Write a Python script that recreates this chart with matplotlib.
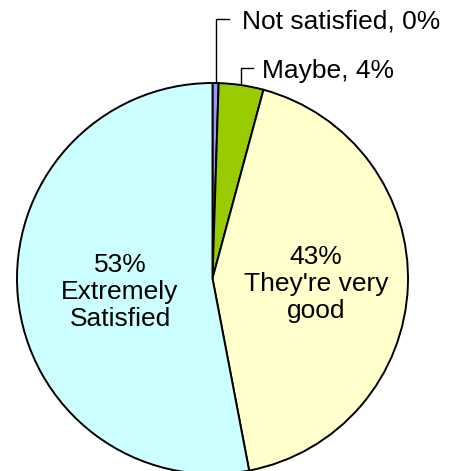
import numpy as np
import matplotlib
matplotlib.use("Agg")
import matplotlib.pyplot as plt

plt.rcParams['font.family'] = ['Liberation Sans', 'DejaVu Sans']

# slices, clockwise from 12 o'clock
categories = ["Not satisfied", "Maybe", "They're very good", "Extremely Satisfied"]
sizes = [0.5, 3.7, 42.8, 53.0]
shown_pct = ["0%", "4%", "43%", "53%"]  # percentages printed on the chart
colors = ["#9999FF", "#99CC00", "#FFFFCC", "#CCFFFF"]

W, H = 457, 471
fig = plt.figure(figsize=(W / 100, H / 100), dpi=100)
ax = fig.add_axes([0, 0, 1, 1])

cx, cy, r = 212.5, H - 278.5, 195.5
wedges, _ = ax.pie(sizes, colors=colors, startangle=90, counterclock=False,
                   center=(cx, cy), radius=r, frame=True,
                   wedgeprops=dict(edgecolor='black', linewidth=1.4))
ax.set_xlim(0, W)
ax.set_ylim(0, H)
ax.set_aspect('equal')
ax.axis('off')

fs = 19

# outside labels with elbow leader lines: (slice, label y, elbow end x, text gap)
outside = [(0, H - 19, 229, 13), (1, H - 68, 253, 9)]
for i, ly, lx, gap in outside:
    w = wedges[i]
    mid = np.deg2rad((w.theta1 + w.theta2) / 2)
    ex, ey = cx + r * np.cos(mid), cy + r * np.sin(mid)
    ax.plot([ex, ex, lx], [ey + 2, ly, ly], color='black', lw=1)
    ax.text(lx + gap, ly - 3, "{}, {}".format(categories[i], shown_pct[i]),
            fontsize=fs, ha='left', va='center')

# inside labels
ax.text(316, H - 284, "{}\nThey're very\ngood".format(shown_pct[2]),
        fontsize=fs, ha='center', va='center', linespacing=1.15)
ax.text(120, H - 292, "{}\nExtremely\nSatisfied".format(shown_pct[3]),
        fontsize=fs, ha='center', va='center', linespacing=1.15)

fig.savefig("out.png", dpi=100)
